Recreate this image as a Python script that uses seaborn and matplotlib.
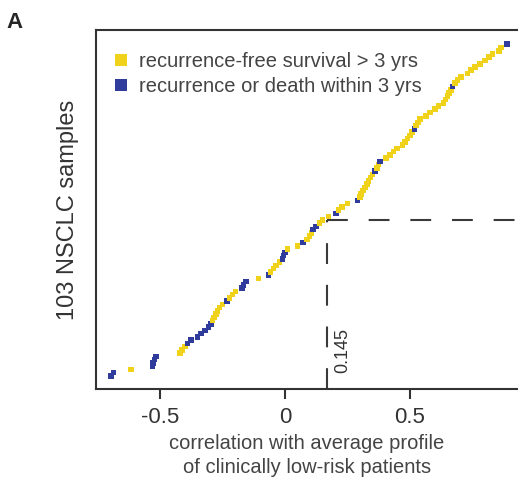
import numpy as np
import pandas as pd
import matplotlib
matplotlib.use("Agg")
import matplotlib.pyplot as plt
from matplotlib.lines import Line2D
import seaborn as sns

# --- data: correlation of each sample, sorted, with outcome group ---
corr_values = [
    -0.695, -0.685, -0.615, -0.530, -0.527, -0.522, -0.515, -0.420, -0.412, -0.400,
    -0.390, -0.375, -0.350, -0.335, -0.320, -0.305, -0.295, -0.290, -0.283, -0.276,
    -0.270, -0.262, -0.250, -0.232, -0.222, -0.210, -0.198, -0.172, -0.165, -0.155,
    -0.105, -0.065, -0.058, -0.045, -0.035, -0.022, -0.010, -0.005, 0.000, 0.010,
    0.050, 0.073, 0.088, 0.098, 0.106, 0.112, 0.125, 0.138, 0.150, 0.175,
    0.205, 0.215, 0.228, 0.250, 0.290, 0.300, 0.305, 0.312, 0.320, 0.328,
    0.335, 0.342, 0.350, 0.360, 0.368, 0.374, 0.380, 0.405, 0.420, 0.435,
    0.448, 0.470, 0.480, 0.490, 0.500, 0.508, 0.518, 0.525, 0.532, 0.540,
    0.565, 0.580, 0.600, 0.615, 0.635, 0.642, 0.650, 0.657, 0.663, 0.670,
    0.680, 0.690, 0.705, 0.730, 0.745, 0.760, 0.780, 0.800, 0.815, 0.830,
    0.855, 0.865, 0.888,
]
# Y = recurrence-free > 3 yrs, B = recurrence or death within 3 yrs
status_codes = (
    "BBYBBBBYYY"
    "BBBBBBBYYY"
    "YYYBYYYBBB"
    "YBYYYYBBBY"
    "YBYYYBBYYY"
    "BYYYBYYYYY"
    "YYYBYYBYYY"
    "YYYYYYBYYY"
    "YYYYYYYYYB"
    "YYYYYYYYYY"
    "YYB"
)
label_good = "recurrence-free survival > 3 yrs"
label_bad = "recurrence or death within 3 yrs"
cutoff_label = "0.145"
cutoff_x = 0.168
cutoff_rank = 49

df = pd.DataFrame({
    "corr": corr_values,
    "rank": np.arange(1, len(corr_values) + 1),
    "group": [label_good if c == "Y" else label_bad for c in status_codes],
})

col_yellow = "#F0D21A"
col_blue = "#2F3C9C"
palette = {label_good: col_yellow, label_bad: col_blue}

sns.set_style("white")
plt.rcParams["font.family"] = ["Liberation Sans", "DejaVu Sans"]

fig = plt.figure(figsize=(5.18, 4.88), dpi=100)
ax = fig.add_axes([0.185, 0.203, 0.815, 0.735])

sns.scatterplot(data=df, x="corr", y="rank", hue="group", palette=palette,
                marker="s", s=16, linewidth=0, legend=False, ax=ax, zorder=3)

ax.set_xlim(-0.756, 0.932)
ax.set_ylim(-3, 107.3)

# cutoff lines
ax.plot([cutoff_x, cutoff_x], [-3, cutoff_rank], color="#3a3a3a", lw=1.5,
        dashes=(10, 10), zorder=2)
ax.plot([cutoff_x, 0.932], [cutoff_rank, cutoff_rank], color="#3a3a3a", lw=1.5,
        dashes=(10, 10), zorder=2)
ax.text(cutoff_x + 0.065, 2, cutoff_label, rotation=90, ha="center", va="bottom",
        fontsize=13, color="#333333")

# axes styling
for side in ["left", "top", "bottom"]:
    ax.spines[side].set_color("#333333")
    ax.spines[side].set_linewidth(1.5)
ax.spines["right"].set_visible(False)
ax.set_yticks([])
ax.set_xticks([-0.5, 0, 0.5])
ax.set_xticklabels(["-0.5", "0", "0.5"])
ax.tick_params(axis="x", direction="out", length=7, width=1.5, color="#333333",
               labelsize=16, labelcolor="#333333", pad=6, bottom=True)
ax.set_xlabel("correlation with average profile\nof clinically low-risk patients",
              fontsize=14.5, color="#444444", labelpad=4, linespacing=1.35)
ax.set_ylabel("103 NSCLC samples", fontsize=17, color="#333333", labelpad=12)

handles = [
    Line2D([], [], marker="s", color="none", markerfacecolor=col_yellow,
           markeredgewidth=0, markersize=8, label=label_good),
    Line2D([], [], marker="s", color="none", markerfacecolor=col_blue,
           markeredgewidth=0, markersize=8, label=label_bad),
]
leg = ax.legend(handles=handles, loc="upper left", frameon=False, fontsize=14.5,
                handlelength=0.7, handletextpad=0.55, labelspacing=0.3,
                borderaxespad=0.5, bbox_to_anchor=(0.0, 0.99))
for t in leg.get_texts():
    t.set_color("#444444")

fig.text(0.012, 0.975, "A", fontsize=16, fontweight="bold", va="top", ha="left")

fig.savefig("out.png", dpi=100)
